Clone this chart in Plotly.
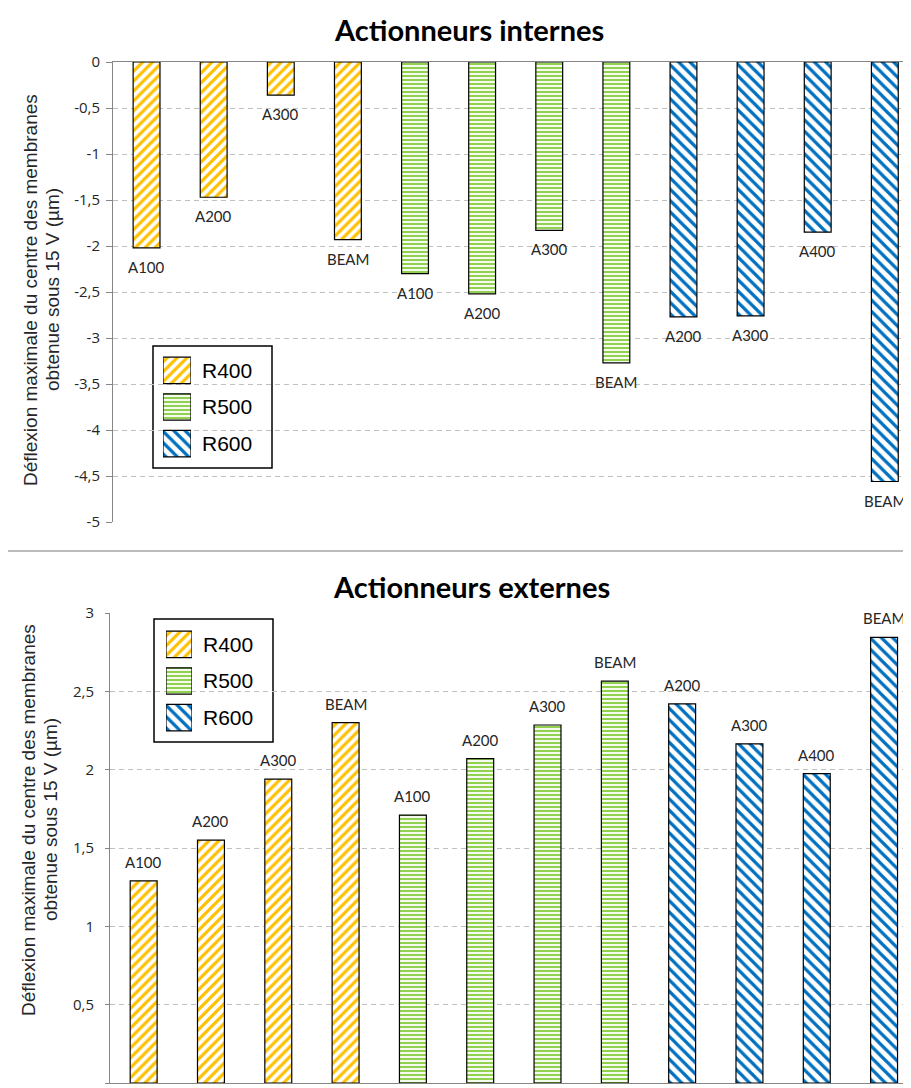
import plotly.graph_objects as go

# the page puts the figure 8px in from the top-left corner
OFF = 8
W, H = 911 - OFF, 1088 - OFF

# data
series = ["R400", "R500", "R600"]
labels_r400 = ["A100", "A200", "A300", "BEAM"]
labels_r500 = ["A100", "A200", "A300", "BEAM"]
labels_r600 = ["A200", "A300", "A400", "BEAM"]

internes_r400 = [-2.02, -1.47, -0.36, -1.93]
internes_r500 = [-2.30, -2.52, -1.83, -3.27]
internes_r600 = [-2.77, -2.76, -1.85, -4.56]

externes_r400 = [1.29, 1.55, 1.94, 2.30]
externes_r500 = [1.71, 2.07, 2.285, 2.565]
externes_r600 = [2.42, 2.165, 1.975, 2.845]

ticks_int = [0, -0.5, -1, -1.5, -2, -2.5, -3, -3.5, -4, -4.5, -5]
ticktext_int = ["0", "-0,5", "-1", "-1,5", "-2", "-2,5", "-3", "-3,5", "-4", "-4,5", "-5"]
ticks_ext = [0, 0.5, 1, 1.5, 2, 2.5, 3]
ticktext_ext = ["0", "0,5", "1", "1,5", "2", "2,5", "3"]

ytitle_1 = "Déflexion maximale du centre des membranes"
ytitle_2 = "obtenue sous 15 V (µm)"

styles = {
    "R400": dict(color="#FFC000", shape="/", size=7, solidity=0.45),
    "R500": dict(color="#92D050", shape="-", size=4, solidity=0.55),
    "R600": dict(color="#0070C0", shape="\\", size=8, solidity=0.4),
}


def px_x(p):
    return (p - OFF) / W


def px_y(p):
    return 1 - (p - OFF) / H


def marker(name):
    s = styles[name]
    return dict(color=s["color"], line=dict(color="black", width=1.2),
                pattern=dict(shape=s["shape"], size=s["size"], solidity=s["solidity"],
                             fgcolor=s["color"], bgcolor="white", fillmode="replace"))


fig = go.Figure()
annotations = []

charts = [
    ("x", "y", [internes_r400, internes_r500, internes_r600], -19),
    ("x2", "y2", [externes_r400, externes_r500, externes_r600], 19),
]
all_labels = [labels_r400, labels_r500, labels_r600]

for xa, ya, vals, shift in charts:
    for name, labels, v in zip(series, all_labels, vals):
        cats = [name + " " + l for l in labels]
        fig.add_trace(go.Bar(x=cats, y=v, xaxis=xa, yaxis=ya, width=0.4,
                             marker=marker(name), showlegend=False, name=name))
        for c, l, y in zip(cats, labels, v):
            annotations.append(dict(x=c, y=y, xref=xa, yref=ya, text=l, showarrow=False,
                                    xanchor="center", yanchor="middle", yshift=shift,
                                    font=dict(family="Lato", size=15, color="#262626")))

# legend drawn as small bar panels
for xa, ya in [("x3", "y3"), ("x4", "y4")]:
    for name in series:
        fig.add_trace(go.Bar(x=[1], y=[name], orientation="h", xaxis=xa, yaxis=ya, width=0.72,
                             marker=marker(name), showlegend=False, hoverinfo="skip"))

grid = dict(showgrid=True, gridcolor="#c0c0c0", griddash="5px,4px", gridwidth=1,
            zeroline=False, showline=True, linecolor="#868686", linewidth=1, automargin=False,
            ticks="outside", tickcolor="#868686", tickfont=dict(family="Open Sans", size=15, color="#262626"))

leg_y = dict(side="right", type="category", categoryorder="array", categoryarray=series[::-1],
             showgrid=False, zeroline=False, showline=False, ticks="", ticklabelstandoff=10,
             automargin=False, tickfont=dict(family="Liberation Sans", size=21, color="black"))

fig.update_layout(
    width=W, height=H, margin=dict(l=0, r=0, t=0, b=0, autoexpand=False),
    paper_bgcolor="white", plot_bgcolor="rgba(0,0,0,0)",
    barmode="overlay", showlegend=False,
    xaxis=dict(domain=[px_x(113), 1], anchor="y", side="top", range=[-0.5, 11.39], automargin=False,
               showline=True, linecolor="#868686", showticklabels=False, ticks="", showgrid=False),
    yaxis=dict(domain=[px_y(522), px_y(62)], anchor="x", range=[-5, 0], tickvals=ticks_int,
               ticktext=ticktext_int, ticklen=6, ticklabelstandoff=3, **grid),
    xaxis2=dict(domain=[px_x(110), 1], anchor="y2", range=[-0.5, 11.40], automargin=False,
                showline=True, linecolor="#868686", showticklabels=False, ticks="", showgrid=False),
    yaxis2=dict(domain=[px_y(1083), px_y(613)], anchor="x2", range=[0, 3], tickvals=ticks_ext,
                ticktext=ticktext_ext, ticklen=4, ticklabelstandoff=8, **grid),
    xaxis3=dict(domain=[px_x(163), px_x(191)], anchor="y3", range=[0, 1], visible=False, automargin=False),
    yaxis3=dict(domain=[px_y(462), px_y(352)], anchor="x3", **leg_y),
    xaxis4=dict(domain=[px_x(166), px_x(192)], anchor="y4", range=[0, 1], visible=False, automargin=False),
    yaxis4=dict(domain=[px_y(736), px_y(626)], anchor="x4", **leg_y),
)

# titles
title_font = dict(family="Lato", size=29, color="black")
ytitle_font = dict(family="Liberation Sans", size=19, color="#262626")
annotations += [
    dict(text="<b>Actionneurs internes</b>", x=px_x(469), y=px_y(29), font=title_font),
    dict(text="<b>Actionneurs externes</b>", x=px_x(471), y=px_y(586), font=title_font),
    dict(text=ytitle_1, x=px_x(31), y=px_y(290), textangle=-90, font=ytitle_font),
    dict(text=ytitle_2, x=px_x(53), y=px_y(290), textangle=-90, font=ytitle_font),
    dict(text=ytitle_1, x=px_x(28), y=px_y(820), textangle=-90, font=ytitle_font),
    dict(text=ytitle_2, x=px_x(50), y=px_y(820), textangle=-90, font=ytitle_font),
]
for a in annotations[-6:]:
    a.update(xref="paper", yref="paper", showarrow=False, xanchor="center", yanchor="middle")
fig.update_layout(annotations=annotations)

fig.update_layout(shapes=[
    dict(type="line", xref="paper", yref="paper", x0=px_x(8), x1=1, y0=px_y(551), y1=px_y(551),
         line=dict(color="#a6a6a6", width=1.5)),
    dict(type="rect", xref="paper", yref="paper", x0=px_x(153), x1=px_x(272), y0=px_y(468), y1=px_y(346),
         line=dict(color="black", width=1.5), fillcolor="white", layer="between"),
    dict(type="rect", xref="paper", yref="paper", x0=px_x(154), x1=px_x(273), y0=px_y(742), y1=px_y(619),
         line=dict(color="black", width=1.5), fillcolor="white", layer="between"),
])

fig.write_html("out.html")
